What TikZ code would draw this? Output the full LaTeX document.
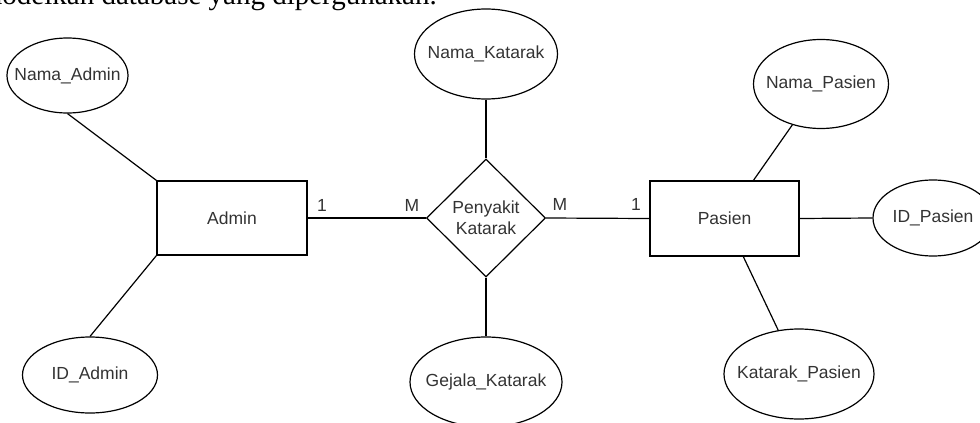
\documentclass[tikz,border=0pt]{standalone}
\usepackage{fontspec}
\setmainfont{Liberation Sans}
\newfontfamily\topfont{Liberation Serif}
\usetikzlibrary{shapes.geometric}
\definecolor{txt}{HTML}{333333}
\newcommand{\zw}[1]{\makebox[0pt]{#1}}
\tikzset{
  erline/.style={draw=black, line width=1.2pt},
  attr/.style={ellipse, erline, inner sep=0pt, text=txt, font=\fontsize{17.5}{21}\selectfont},
  entity/.style={rectangle, erline, inner sep=0pt, text=txt, font=\fontsize{17.5}{21}\selectfont},
  relation/.style={diamond, erline, inner sep=0pt, align=center, text=txt, font=\fontsize{17.5}{21}\selectfont},
  card/.style={text=txt, inner sep=0pt, font=\fontsize{17.5}{21}\selectfont},
  conn/.style={erline}
}
\begin{document}
\begin{tikzpicture}[x=1pt,y=-1pt]
\useasboundingbox (0,0) rectangle (980,423);
\begin{scope}
\clip (0,0) rectangle (980,423);
\node[anchor=base east, inner sep=0pt, font=\topfont\fontsize{29}{34}\selectfont] (toptext) at (437,4.5) {modelkan database yang dipergunakan.};

\node[attr, minimum width=121pt, minimum height=75pt] (namaadmin) at (67.5,75.5) {\zw{Nama\_Admin}};
\node[entity, minimum width=150pt, minimum height=74pt] (admin) at (232,218) {Admin};
\node[attr, minimum width=135pt, minimum height=76pt] (idadmin) at (90,375) {\zw{ID\_Admin}};
\node[attr, minimum width=143pt, minimum height=90pt] (namakat) at (486,54) {\zw{Nama\_Katarak}};
\node[relation, minimum width=119pt, minimum height=118pt] (rel) at (486,218) {Penyakit\\Katarak};
\node[attr, minimum width=152pt, minimum height=90pt] (gejala) at (486,382) {\zw{Gejala\_Katarak}};
\node[entity, minimum width=149pt, minimum height=75pt] (pasien) at (724.5,218.5) {Pasien};
\node[attr, minimum width=135pt, minimum height=89pt] (namapas) at (821,84) {\zw{Nama\_Pasien}};
\node[attr, minimum width=120pt, minimum height=76pt] (idpas) at (933,218) {\zw{ID\_Pasien}};
\node[attr, minimum width=150pt, minimum height=90pt] (katpas) at (799,374) {\zw{Katarak\_Pasien}};

\coordinate (p1) at (753,181);
\coordinate (p2) at (743,256);

\draw[conn] (namaadmin.south) -- (admin.north west);
\draw[conn] (admin.south west) -- (idadmin.north);
\draw[conn] (admin.east) -- (rel.west);
\draw[conn] (namakat.south) -- (rel.north);
\draw[conn] (rel.south) -- (gejala.north);
\draw[conn] (rel.east) -- (pasien.west);
\draw[conn] (namapas) -- (p1);
\draw[conn] (pasien.east) -- (idpas.west);
\draw[conn] (katpas) -- (p2);

\node[card] (c1) at (322,205) {1};
\node[card] (c2) at (412,205) {M};
\node[card] (c3) at (560,204) {M};
\node[card] (c4) at (636,204) {1};
\end{scope}
\end{tikzpicture}
\end{document}
